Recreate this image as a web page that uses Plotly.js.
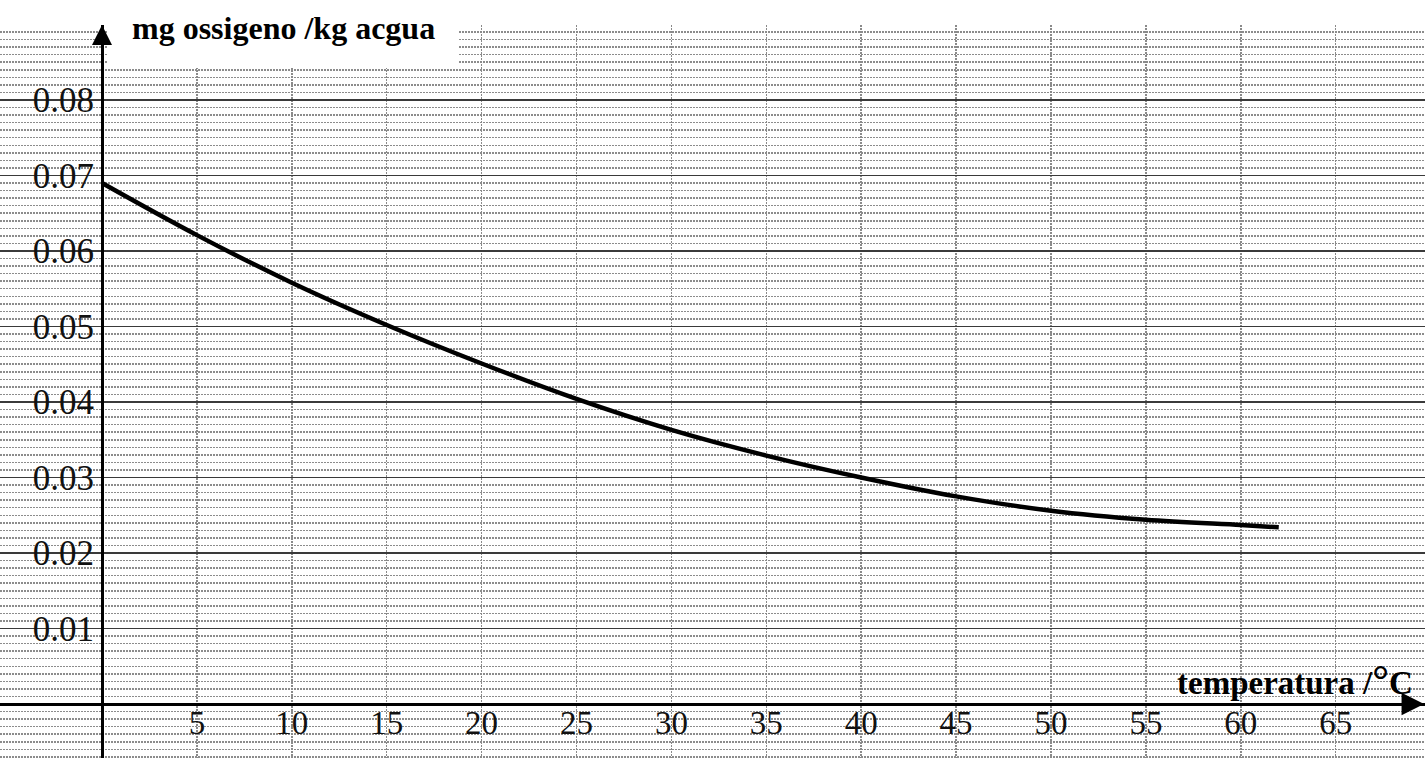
<!DOCTYPE html>
<html>
<head>
<meta charset="utf-8">
<script src="https://cdn.plot.ly/plotly-3.0.1.min.js"></script>
<style>
html,body{margin:0;padding:0;background:#fff;}
#chart{width:1425px;height:758px;}
</style>
</head>
<body>
<div id="chart"></div>
<script>
// Data
var temperature = [0, 5, 10, 15, 20, 25, 30, 35, 40, 45, 50, 55, 60, 62];
var oxygen = [0.0690, 0.0621, 0.0558, 0.0502, 0.0451, 0.0404, 0.0363, 0.0329, 0.0300, 0.0275, 0.0256, 0.0244, 0.0237, 0.0234];

var xTickVals = [5, 10, 15, 20, 25, 30, 35, 40, 45, 50, 55, 60, 65];
var xTickText = ['5', '10', '15', '20', '25', '30', '35', '40', '45', '50', '55', '60', '65'];
var yTickVals = [0.01, 0.02, 0.03, 0.04, 0.05, 0.06, 0.07, 0.08];
var yTickText = ['0.01', '0.02', '0.03', '0.04', '0.05', '0.06', '0.07', '0.08'];

var yTitle = 'mg ossigeno /kg acgua';
var xTitleMain = 'temperatura /';
var xTitleDeg = '°';
var xTitleUnit = 'C';

var xRange = [-5.374, 69.705];
var yRange = [-0.00715, 0.08993];
var xAxisPos = (0 - yRange[0]) / (yRange[1] - yRange[0]);
var yAxisPos = (0 - xRange[0]) / (xRange[1] - xRange[0]);

var serif = 'Liberation Serif, Times New Roman, serif';

var traces = [
  {
    x: temperature, y: oxygen, type: 'scatter', mode: 'lines',
    line: {color: '#000', width: 4.5, shape: 'spline', smoothing: 1},
    hoverinfo: 'skip', showlegend: false
  }
];

var layout = {
  width: 1425, height: 758,
  margin: {l: 0, r: 0, t: 25, b: 0, pad: 0},
  paper_bgcolor: '#fff', plot_bgcolor: '#fff',
  showlegend: false,
  xaxis: {
    range: xRange, anchor: 'free', position: xAxisPos,
    tickmode: 'array', tickvals: xTickVals, ticktext: xTickText,
    showgrid: true, gridcolor: '#8a8a8a', gridwidth: 1.5, griddash: '2px,1px',
    zeroline: false, showline: true, linecolor: '#000', linewidth: 3,
    ticks: '', ticklabelstandoff: -12,
    tickfont: {family: serif, size: 33, color: '#111'},
    fixedrange: true
  },
  yaxis: {
    range: yRange, anchor: 'free', position: yAxisPos,
    tickmode: 'array', tickvals: yTickVals, ticktext: yTickText,
    showgrid: true, gridcolor: '#3a3a3a', gridwidth: 1.5,
    minor: {dtick: 0.001, tick0: 0, showgrid: true, gridcolor: '#8c8c8c', gridwidth: 1.5, griddash: '2px,1px', ticks: ''},
    zeroline: false, showline: true, linecolor: '#000', linewidth: 3,
    ticks: '', ticklabelstandoff: 0,
    tickfont: {family: serif, size: 35, color: '#111'},
    fixedrange: true
  },
  shapes: [
    {type: 'rect', xref: 'paper', yref: 'paper', x0: 108/1425, x1: 458/1425, y0: (758-68)/733, y1: 1.05,
     fillcolor: '#fff', line: {width: 0}, layer: 'above'}
  ],
  annotations: [
    {xref: 'paper', yref: 'paper', x: 130/1425, y: (758-28)/733, xanchor: 'left', yanchor: 'middle',
     text: '<b>' + yTitle + '</b>', showarrow: false,
     font: {family: serif, size: 32, color: '#000'}},
    {xref: 'paper', yref: 'paper', x: 1175/1425, y: (758-680)/733, xanchor: 'left', yanchor: 'middle',
     text: '<b>' + xTitleMain + '<span style="font-size:42px">' + xTitleDeg + '</span>' + xTitleUnit + '</b>', showarrow: false,
     font: {family: serif, size: 33, color: '#000'}},
    {xref: 'x', yref: 'y', x: 0, y: yRange[1], ax: 0, ay: 14, text: '', showarrow: true,
     arrowhead: 2, arrowsize: 1.6, arrowwidth: 2.5, arrowcolor: '#000'},
    {xref: 'x', yref: 'y', x: xRange[1] - 0.05, y: 0, ax: -14, ay: 0, text: '', showarrow: true,
     arrowhead: 2, arrowsize: 1.8, arrowwidth: 2.5, arrowcolor: '#000'}
  ]
};

Plotly.newPlot('chart', traces, layout, {displayModeBar: false, staticPlot: true});
</script>
</body>
</html>
